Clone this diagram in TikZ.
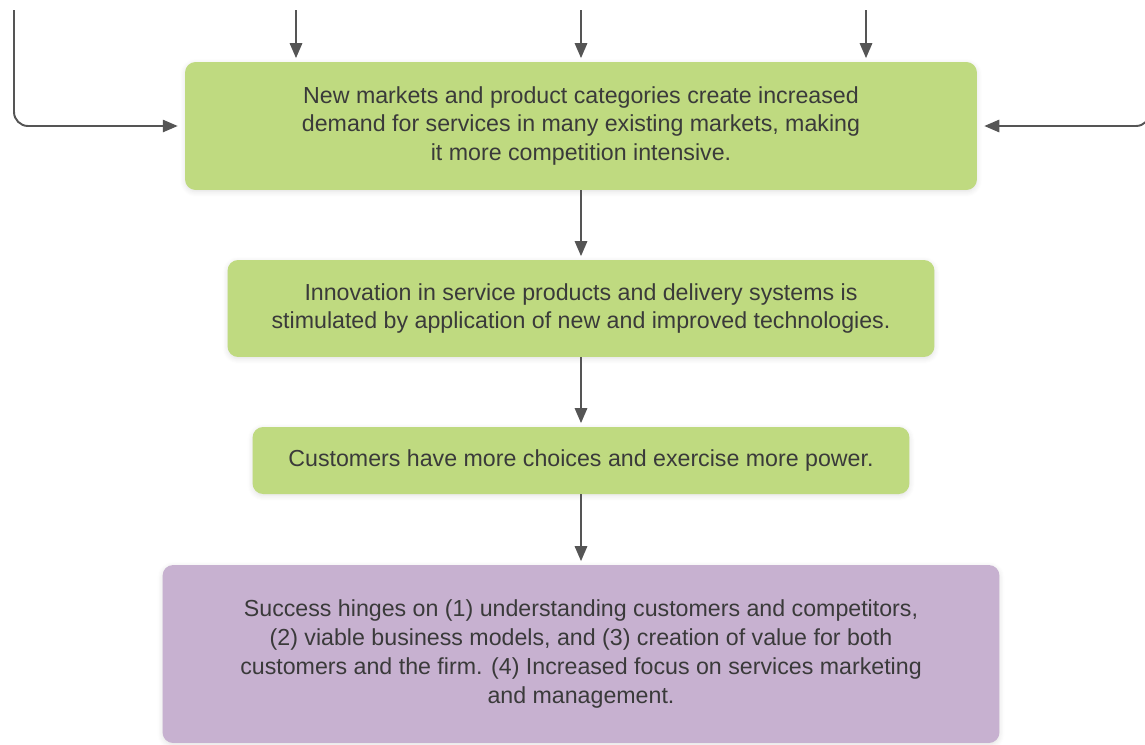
\documentclass[tikz,border=0pt]{standalone}
\usepackage{fontspec}
\setmainfont{Liberation Sans}
\usepackage{xcolor}
\usetikzlibrary{arrows.meta,positioning,shadows.blur}

\definecolor{boxgreen}{HTML}{BFDA80}
\definecolor{boxpurple}{HTML}{C7B1D0}
\definecolor{inkgray}{HTML}{3A3A3A}
\definecolor{arrgray}{HTML}{555555}

\begin{document}
\begin{tikzpicture}[
    x=0.02cm, y=-0.02cm,
    stage/.style={rectangle, rounded corners=6pt, align=center, text=inkgray,
      font=\fontsize{13.2}{16.4}\selectfont, inner sep=0pt,
      blur shadow={shadow blur steps=6, shadow xshift=0pt, shadow yshift=-1pt, shadow opacity=12, shadow blur radius=3pt}},
    arr/.style={-{Triangle[length=8.5pt, width=7pt]}, draw=arrgray, line width=1.1pt, shorten >=2pt},
  ]
    \useasboundingbox (0,0) rectangle (1145,744);

    \node[stage, fill=boxgreen, minimum width=15.84cm, minimum height=2.56cm] (demand) at (581,126)
      {New markets and product categories create increased\\demand for services in many existing markets, making\\it more competition intensive.};
    \node[stage, fill=boxgreen, minimum width=14.14cm, minimum height=1.94cm] (innov) at (581,308.5)
      {Innovation in service products and delivery systems is\\stimulated by application of new and improved technologies.};
    \node[stage, fill=boxgreen, minimum width=13.14cm, minimum height=1.34cm] (choice) at (581,460.5)
      {Customers have more choices and exercise more power.};
    \node[stage, fill=boxpurple, minimum width=16.74cm, minimum height=3.56cm] (success) at (581,654)
      {Success hinges on (1) understanding customers and competitors,\\(2) viable business models, and (3) creation of value for both\\customers and the firm. (4) Increased focus on services marketing\\and management.};

    % Inputs from above
    \coordinate (inA) at (296,10);
    \coordinate (inB) at (581,10);
    \coordinate (inC) at (866,10);
    \coordinate (inL) at (14,10);
    \coordinate (inR) at (1150,60);

    \foreach \c in {inA,inB,inC}
      \draw[arr] (\c) -- (\c |- demand.north);

    % Side feeds
    \draw[arr, rounded corners=8pt, shorten >=4pt] (inL) |- (demand.west);
    \draw[arr, rounded corners=8pt, shorten >=4pt] (inR) |- (demand.east);

    % Chain
    \draw[arr] (demand) -- (innov);
    \draw[arr] (innov) -- (choice);
    \draw[arr] (choice) -- (success);
\end{tikzpicture}
\end{document}
